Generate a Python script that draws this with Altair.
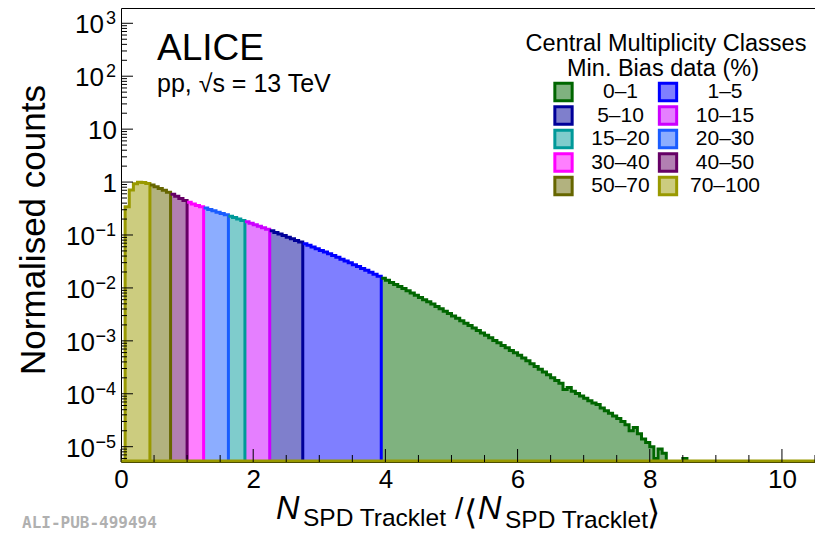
import altair as alt
import pandas as pd

# ---------------- data ----------------
MEAN_TRACKLETS = 16  # x = N_tracklet / <N_tracklet>
tracklet_bins = list(range(1, 137))
norm_counts = [
    0.34, 0.71, 0.93, 0.99, 0.98, 0.94,                      # 1-6   (70-100)
    0.88, 0.82, 0.76, 0.70, 0.64,                            # 7-11  (50-70)
    0.59, 0.54, 0.49, 0.45,                                  # 12-15 (40-50)
    0.415, 0.385, 0.36, 0.34,                                # 16-19 (30-40)
    0.322, 0.303, 0.286, 0.27, 0.255, 0.24,                  # 20-25 (20-30)
    0.226, 0.213, 0.200, 0.188,                              # 26-29 (15-20)
    0.177, 0.166, 0.156, 0.146, 0.137, 0.128,                # 30-35 (10-15)
    0.120, 0.112, 0.105, 0.098, 0.091, 0.085, 0.079, 0.074,  # 36-43 (5-10)
    0.0685, 0.0637, 0.0593, 0.0551, 0.0512, 0.0475, 0.0441, 0.0408, 0.0379, 0.035,
    0.0324, 0.0299, 0.0275, 0.0254, 0.0233, 0.0215, 0.0197, 0.0181, 0.0166,  # 44-62 (1-5)
    0.0152, 0.0139, 0.0127, 0.0116, 0.0106, 0.0097, 0.0088, 0.0080, 0.0073, 0.0066,
    0.0060, 0.0055, 0.00495, 0.00447, 0.00403, 0.00363, 0.00327, 0.00295, 0.00266, 0.0024,
    0.00216, 0.00195, 0.00175, 0.00157, 0.00141, 0.00127, 0.00114, 0.00102, 0.00092, 0.00082,
    0.00074, 0.00066, 0.000596, 0.000535, 0.000473, 0.000419, 0.00037, 0.000328, 0.00029, 0.000257,
    0.000228, 0.000201, 0.000178, 0.000158, 0.00012, 0.000132, 0.000112, 0.000101, 0.000091, 0.000082,
    0.000074, 0.000067, 0.000063, 0.000054, 0.000048, 0.000043, 0.000038, 0.000034, 0.00003, 0.000026,
    0.00002, 0.000023, 0.0000175, 0.000014, 0.000012, 0.00001, 0.000006, 0.000009, 0.0000075, 0.0,
    0.0, 0.0, 0.0, 0.000006,                                  # 63-136 (0-1)
]

class_names = ["0–1", "1–5", "5–10", "10–15", "15–20", "20–30", "30–40", "40–50", "50–70", "70–100"]
line_colors = ["#006600", "#0000ff", "#000099", "#cc00ff", "#009999", "#1a5cff", "#ff00ff", "#660066", "#666600", "#999900"]
fill_colors = ["#7fb27f", "#7f7fff", "#7f7fcc", "#e57fff", "#7fcccc", "#8cadff", "#ff7fff", "#b27fb2", "#b2b27f", "#cccc7f"]

class_lowx_order = ["70–100", "50–70", "40–50", "30–40", "20–30", "15–20", "10–15", "5–10", "1–5", "0–1"]
class_first_bin = [1, 7, 12, 16, 20, 26, 30, 36, 44, 63]
last_bin_end = 137

x_label_values = [0, 2, 4, 6, 8, 10]
x_minor_values = [0.5, 1.0, 1.5, 2.5, 3.0, 3.5, 4.5, 5.0, 5.5, 6.5, 7.0, 7.5, 8.5, 9.0, 9.5, 10.5]
y_major_values = [1e-5, 1e-4, 1e-3, 1e-2, 1e-1, 1.0, 10.0, 100.0, 1000.0]
y_label_base = ["10", "10", "10", "10", "10", "1", "10", "10", "10"]
y_label_exp = ["−5", "−4", "−3", "−2", "−1", "", "", "2", "3"]
y_minor_values = [m * 10.0 ** k for k in range(-6, 4) for m in range(2, 10)]

X_MAX = 10.5
Y_MIN, Y_MAX = 5.14e-6, 1945.0
y_minor_values = [v for v in y_minor_values if Y_MIN <= v <= Y_MAX]

W, H = 694, 454
FONT = "Liberation Sans"

# ---------------- tables ----------------
val = dict(zip(tracklet_bins, norm_counts))
bounds = class_first_bin + [last_bin_end]
area_rows, line_rows = [], []
seq = 0
for ci, cls in enumerate(class_lowx_order):
    a, b = bounds[ci], bounds[ci + 1]
    xs_ = [n / MEAN_TRACKLETS for n in range(a, b)]
    vs = [max(val.get(n, 0.0), Y_MIN) for n in range(a, b)]
    xe = b / MEAN_TRACKLETS
    for x, v in zip(xs_, vs):
        area_rows.append(dict(cls=cls, x=x, v=v))
    area_rows.append(dict(cls=cls, x=xe, v=vs[-1]))
    pts = []
    if ci == 0:
        pts.append((xs_[0], Y_MIN))
    pts += list(zip(xs_, vs)) + [(xe, vs[-1]), (xe, Y_MIN)]
    for x, v in pts:
        line_rows.append(dict(cls=cls, x=x, v=v, seq=seq))
        seq += 1
area_df = pd.DataFrame(area_rows)
line_df = pd.DataFrame(line_rows)


def label_rows(cond):
    idx = [i for i, e in enumerate(y_label_exp) if cond(e)]
    return pd.DataFrame({"v": [y_major_values[i] for i in idx],
                         "lab": [y_label_base[i] for i in idx],
                         "sup": [y_label_exp[i] for i in idx]})


ylab_neg = label_rows(lambda e: e.startswith("−"))
ylab_pos = label_rows(lambda e: e != "" and not e.startswith("−"))
ylab_plain = label_rows(lambda e: e == "")
ylab_sup = label_rows(lambda e: e != "")

xs = alt.Scale(domain=[0, X_MAX], nice=False, zero=False)
ys = alt.Scale(type="log", domain=[Y_MIN, Y_MAX], nice=False)
fill_scale = alt.Scale(domain=class_names, range=fill_colors)
stroke_scale = alt.Scale(domain=class_names, range=line_colors)

x_axis = alt.Axis(values=x_label_values, format="d", labelFontSize=26, labelFont=FONT,
                  labelColor="black", ticks=False, domain=False, grid=False, labelPadding=4,
                  title=None, labelFlush=False, labelOverlap=False)
y_axis = alt.Axis(values=y_major_values, labels=False, ticks=False, domain=False, grid=False,
                  title=None)

area = alt.Chart(area_df).mark_area(interpolate="step-after", clip=True).encode(
    x=alt.X("x:Q", scale=xs, axis=x_axis),
    y=alt.Y("v:Q", scale=ys, axis=y_axis),
    y2=alt.datum(Y_MIN),
    fill=alt.Fill("cls:N", scale=fill_scale, legend=None),
)

line = alt.Chart(line_df).mark_line(interpolate="step-after", strokeWidth=3, clip=True,
                                    strokeJoin="miter", strokeCap="butt").encode(
    x=alt.X("x:Q", scale=xs),
    y=alt.Y("v:Q", scale=ys),
    stroke=alt.Stroke("cls:N", scale=stroke_scale, legend=None),
    order=alt.Order("seq:Q"),
)

bottom = alt.Chart(pd.DataFrame({"x": [0.0], "x1": [X_MAX]})).mark_rule(
    color="#999900", strokeWidth=3, yOffset=-1).encode(
    x=alt.X("x:Q", scale=xs), x2="x1:Q", y=alt.datum(Y_MIN))

ytmaj = alt.Chart(pd.DataFrame({"v": y_major_values})).mark_rule(color="black", strokeWidth=1).encode(
    y=alt.Y("v:Q", scale=ys), x=alt.value(0), x2=alt.value(12))
ytmin = alt.Chart(pd.DataFrame({"v": y_minor_values})).mark_rule(color="black", strokeWidth=1).encode(
    y=alt.Y("v:Q", scale=ys), x=alt.value(0), x2=alt.value(6))
xtmaj = alt.Chart(pd.DataFrame({"x": x_label_values})).mark_rule(color="black", strokeWidth=1).encode(
    x=alt.X("x:Q", scale=xs), y=alt.value(H), y2=alt.value(H - 13))
xtmin = alt.Chart(pd.DataFrame({"x": x_minor_values})).mark_rule(color="black", strokeWidth=1).encode(
    x=alt.X("x:Q", scale=xs), y=alt.value(H), y2=alt.value(H - 7))


def ylab(df, field, xpos, size, dy):
    return alt.Chart(df).mark_text(align="right", baseline="alphabetic", fontSize=size, font=FONT,
                                   color="black", dy=dy).encode(
        y=alt.Y("v:Q", scale=ys), x=alt.value(xpos), text=alt.Text(f"{field}:N"))


ylabels = [
    ylab(ylab_neg, "lab", -26, 26, 10),
    ylab(ylab_pos, "lab", -17, 26, 10),
    ylab(ylab_plain, "lab", -4, 26, 10),
    ylab(ylab_sup, "sup", -5, 18, 1),
]


def txt(t, x, y, size, align="left", baseline="alphabetic", style="normal", angle=0,
        font=FONT, color="black", weight="normal"):
    return alt.Chart(pd.DataFrame({"t": [t]})).mark_text(
        align=align, baseline=baseline, fontSize=size, font=font, fontStyle=style,
        angle=angle, color=color, fontWeight=weight).encode(
        text="t:N", x=alt.value(x), y=alt.value(y))


texts = [
    txt("ALICE", 36, 52, 37),
    txt("pp, √s = 13 TeV", 36, 84, 25),
    txt("Normalised counts", -76, 222, 35, align="center", angle=270),
    txt("Central Multiplicity Classes", 545, 43, 23.5, align="center"),
    txt("Min. Bias data (%)", 542, 68, 23.5, align="center"),
    txt("N", 155, 511, 32.5, style="italic"),
    txt("SPD Tracklet", 182, 518, 24.5),
    txt("/", 334, 511, 30),
    txt("⟨", 343, 516, 34),
    txt("N", 357, 511, 32.5, style="italic"),
    txt("SPD Tracklet", 384, 520, 24.5),
    txt("⟩", 526, 516, 34),
    txt("ALI-PUB-499494", -99, 520, 16, font="DejaVu Sans Mono", color="#b0b0b0", weight="bold"),
]

# legend entries (2 columns, row-major), positioned in the plot's pixel frame
LEG_COL_X = [442.5, 547]
LEG_ROW_Y0, LEG_ROW_DY = 84, 23.5
legend_layers = []
for i, cls in enumerate(class_names):
    px = LEG_COL_X[i % 2]
    py = LEG_ROW_Y0 + LEG_ROW_DY * (i // 2)
    d = pd.DataFrame({"cls": [cls]})
    legend_layers.append(
        alt.Chart(d).mark_square(size=300, strokeWidth=3, opacity=1, filled=True).encode(
            x=alt.value(px), y=alt.value(py),
            fill=alt.Fill("cls:N", scale=fill_scale, legend=None),
            stroke=alt.Stroke("cls:N", scale=stroke_scale, legend=None)))
    legend_layers.append(
        alt.Chart(d).mark_text(align="center", baseline="middle", fontSize=21, font=FONT,
                               color="black").encode(
            x=alt.value(px + 57), y=alt.value(py), text="cls:N"))

chart = alt.layer(area, line, bottom, ytmaj, ytmin, xtmaj, xtmin, *ylabels, *texts,
                  *legend_layers).properties(
    width=W, height=H,
    autosize=alt.AutoSizeParams(type="none"),
    padding={"left": 113, "top": 0, "right": 0, "bottom": 71},
).configure_view(stroke="black", strokeWidth=1)

chart.save("out.html", embed_options={"renderer": "svg", "actions": False})
